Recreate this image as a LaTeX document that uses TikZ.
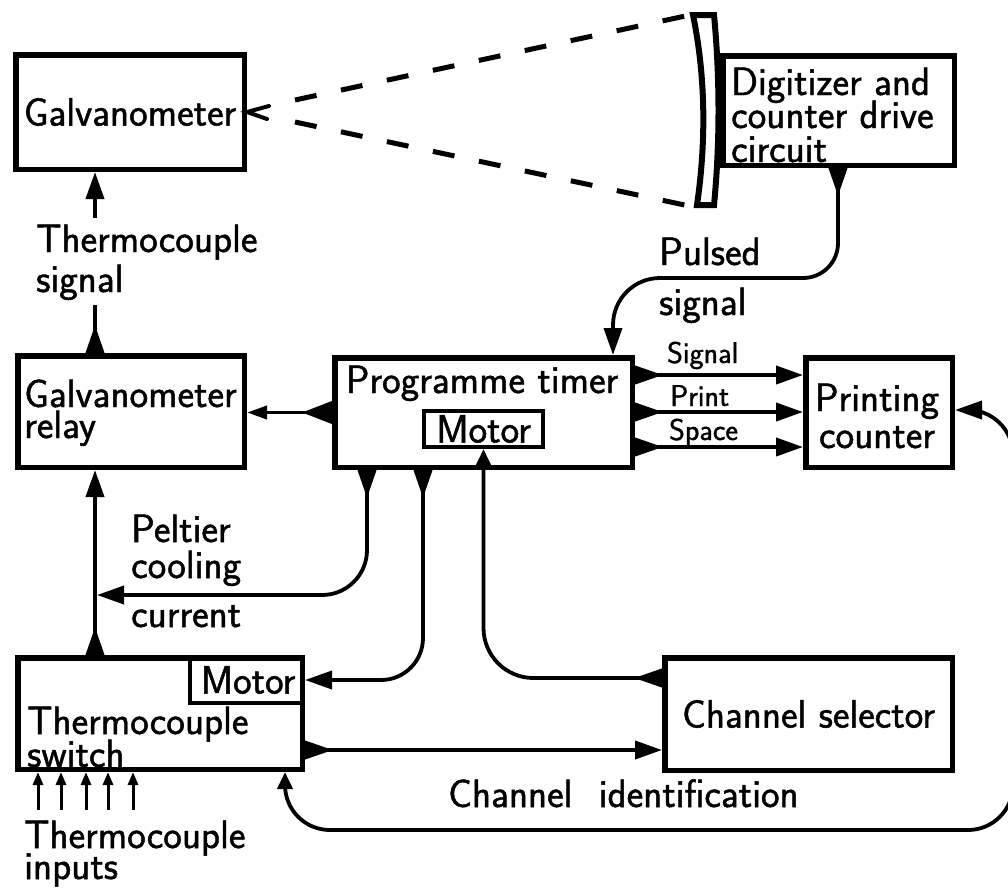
\documentclass[tikz,border=0pt]{standalone}
\usepackage{fontspec}
\newfontfamily\DinFont{Latin Modern Sans}[FakeBold=1.2]
\usetikzlibrary{arrows.meta,calc}
\newcommand\LblFont{\DinFont\fontsize{39.5}{31}\selectfont}
\newcommand\SmlFont{\DinFont\fontsize{30}{32}\selectfont}
\begin{document}
\begin{tikzpicture}[x=1pt,y=-1pt,
  box/.style={draw,line width=5.5pt,inner sep=0pt,font=\LblFont},
  mbox/.style={draw,line width=4pt,inner sep=0pt,font=\LblFont},
  lbl/.style={anchor=base west,inner sep=0pt,font=\LblFont},
  lblc/.style={anchor=base,inner sep=0pt,font=\LblFont},
  sml/.style={anchor=base west,inner sep=0pt,font=\SmlFont},
  conn/.style={line width=3.8pt},
  fa/.style={{Triangle[reversed,length=28pt,width=18pt]}-{Triangle[length=27pt,width=18pt]}},
  ah/.style={-{Triangle[length=27pt,width=18pt]}},
  fl/.style={{Triangle[reversed,length=28pt,width=18pt]}-},
]
\useasboundingbox (0,0) rectangle (1008,895);

% ---------- boxes ----------
\node[box,minimum width=228.5pt,minimum height=114.5pt] (galv) at (130,112) {Galvanometer};

% curved scale of the digitizer
\draw[line width=6pt,fill=white] (693,15) .. controls (706,78) and (706,143) .. (697,205)
  -- (714,205) .. controls (720,143) and (720,78) .. (714,15) -- cycle;
\node[box,minimum width=231.5pt,minimum height=109.5pt] (dig) at (838.5,110.5) {};
\node[lbl] (dig1) at (731,95) {Digitizer and};
\node[lbl] (dig2) at (731,128) {counter drive};
\node[lbl] (dig3) at (731,162) {circuit};

\node[box,minimum width=226.5pt,minimum height=111.5pt] (relay) at (131,411.5) {};
\node[lbl] (rel1) at (24,407) {Galvanometer};
\node[lbl] (rel2) at (24,438) {relay};

\node[box,minimum width=297.5pt,minimum height=109.5pt] (timer) at (483.5,412.5) {};
\node[lblc] (tim1) at (482,393) {Programme timer};
\node[mbox,minimum width=119pt,minimum height=36pt] (tmotor) at (483.5,429) {Motor};

\node[box,minimum width=146.5pt,minimum height=109.5pt] (printc) at (879,412.5) {};
\node[lblc] (pc1) at (877,411) {Printing};
\node[lblc] (pc2) at (877,448) {counter};

\node[box,minimum width=287.5pt,minimum height=112.5pt] (chsel) at (808.5,714) {Channel selector};

\node[box,minimum width=284.5pt,minimum height=111.5pt] (sw) at (160,713.5) {};
\node[mbox,minimum width=112pt,minimum height=46pt] (smotor) at (246,680) {\hspace*{4pt}Motor};
\node[lbl] (sw1) at (27,734) {Thermocouple};
\node[lbl] (sw2) at (27,767) {switch};

% ---------- free labels ----------
\node[lbl] (ts1l) at (36,252) {Thermocouple};
\node[lbl] (ts2l) at (36,292) {signal};
\node[lbl] (pel1) at (131,542) {Peltier};
\node[lbl] (pel2) at (131,578) {cooling};
\node[lbl] (pel3) at (131,627) {current};
\node[lbl] (pul1) at (659,265) {Pulsed};
\node[lbl] (pul2) at (659,315) {signal};
\node[sml] (sg) at (667,363) {Signal};
\node[sml] (pr) at (670,406) {Print};
\node[sml] (sp) at (669,440) {Space};
\node[lbl] (cid) at (448,807) {Channel\hspace{14pt} identification};
\node[lbl] (ti1) at (24,848) {Thermocouple};
\node[lbl] (ti2) at (24,879) {inputs};

% ---------- connectors ----------
\coordinate (xa) at (95,0);
\coordinate (ts1) at (95,305);
\coordinate (ts2) at (95,218);
\draw[conn,fl] (relay.north -| xa) -- (ts1);
\draw[conn,ah] (ts2) -- (galv.south -| xa);

\draw[conn,fa] (sw.north -| xa) -- (relay.south -| xa);

% Peltier cooling current
\coordinate (xp) at (367,0);
\coordinate (pel) at (97,595);
\draw[conn,fa,rounded corners=45pt] (timer.south -| xp) |- (pel);

% programme timer -> galvanometer relay
\draw[conn,{Triangle[reversed,length=30pt,width=22pt]}-{Triangle[length=20pt,width=13pt]}]
  (timer.west) -- (relay.east |- timer.west);

% programme timer -> printing counter
\foreach \yy in {375,412,447}
  \draw[conn,fa] (timer.east |- 0,\yy) -- (printc.west |- 0,\yy);

% pulsed signal
\coordinate (xd) at (838,0);
\coordinate (xt) at (613,0);
\draw[conn,fa] (dig.south -| xd) -- (838,243) to[out=-90,in=0] (803,278) -- (660,278)
  to[out=180,in=90] (613,325) -- (timer.north -| xt);

% programme timer -> switch motor
\coordinate (xm) at (423,0);
\draw[conn,fa,rounded corners=42pt] (timer.south -| xm) |- (sw.east |- smotor.east);

% channel selector -> timer motor
\draw[conn,{Triangle[reversed,length=28pt,width=18pt]}-{Triangle[length=18pt,width=16pt]},rounded corners=50pt]
  (chsel.west |- 0,678) -| (tmotor.south);

% switch -> channel selector
\draw[conn,fa] (sw.east |- 0,750) -- (chsel.west |- 0,750);

% channel identification loop
\begin{scope}
\clip (0,0) rectangle (1008,895);
\draw[conn,{Triangle[length=27pt,width=18pt]}-{Triangle[length=17pt,width=15pt]},rounded corners=45pt]
  (printc.east |- 0,410) -| (1013,830) -| (sw.south -| 285,0);
\end{scope}

% thermocouple inputs
\foreach \xx in {38,61,86,108,133}{
  \coordinate (in\xx) at (\xx,810);
  \draw[line width=3pt,-{Triangle[length=13pt,width=10pt]}] (in\xx) -- (sw.south -| in\xx);
}

% galvanometer light beam
\draw[line width=4pt,line cap=round] ($(galv.east)+(22,-6)$) -- (galv.east) -- ($(galv.east)+(20,7)$);
\coordinate (d1) at (295,100);
\coordinate (d2) at (295,122);
\coordinate (b1) at (690,15);
\coordinate (b2) at (694,207);
\draw[line width=5pt,dash pattern=on 22pt off 25pt] (d1) -- (b1);
\draw[line width=5pt,dash pattern=on 22pt off 25pt] (d2) -- (b2);
\end{tikzpicture}
\end{document}
